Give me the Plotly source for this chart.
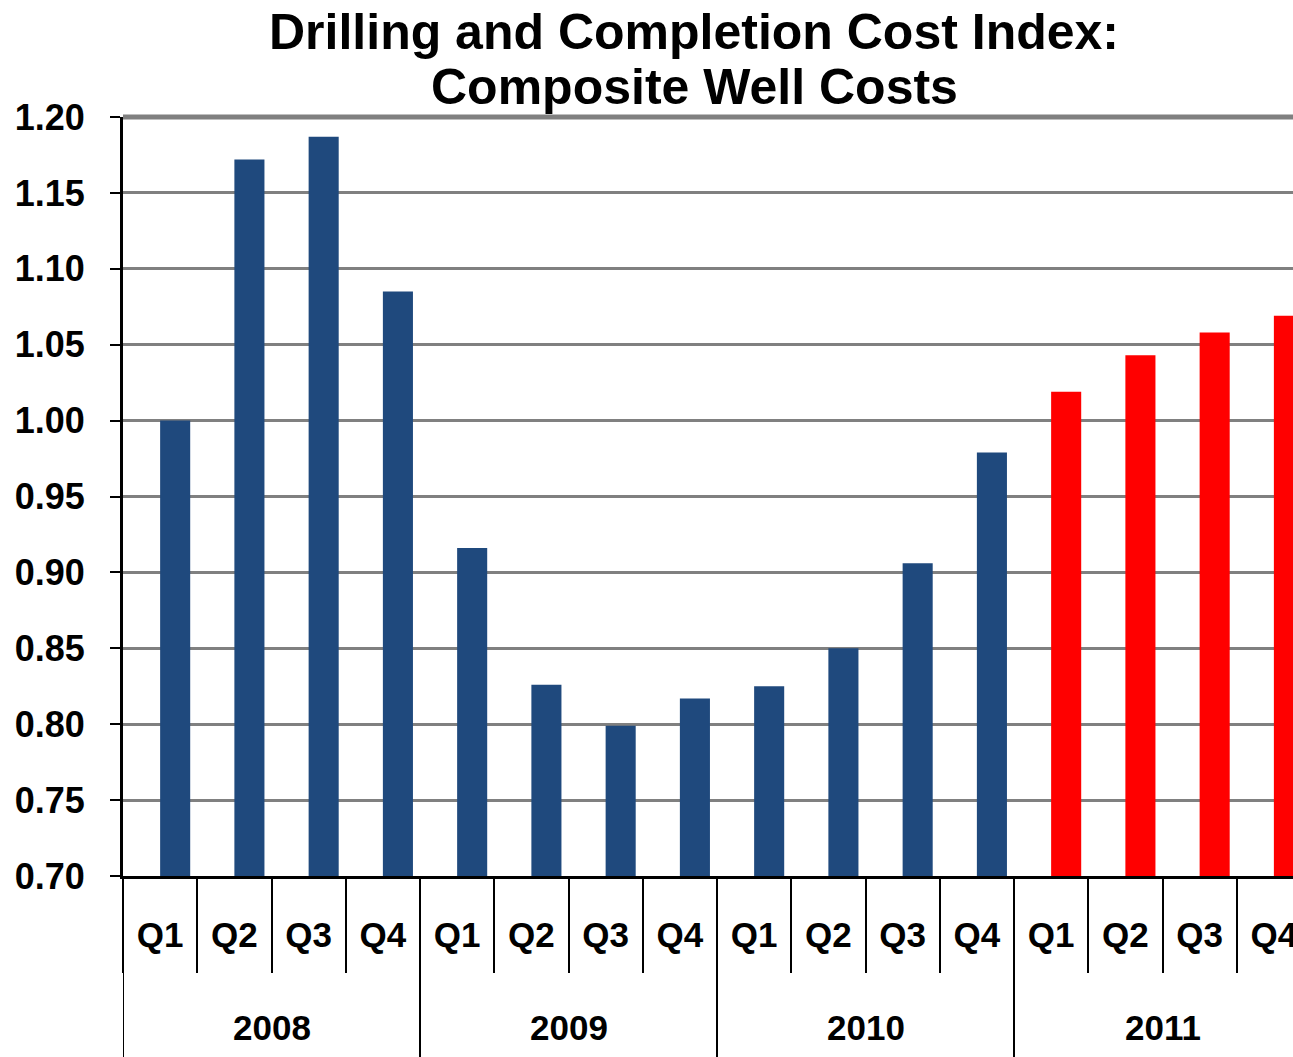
import plotly.graph_objects as go

years = ["2008"] * 4 + ["2009"] * 4 + ["2010"] * 4 + ["2011"] * 4
quarters = ["Q1", "Q2", "Q3", "Q4"] * 4
values = [1.000, 1.172, 1.187, 1.085,
          0.916, 0.826, 0.799, 0.817,
          0.825, 0.850, 0.906, 0.979,
          1.019, 1.043, 1.058, 1.069]
bar_colors = ["#1F497D"] * 12 + ["#FF0000"] * 4
y_ticks = [0.70, 0.75, 0.80, 0.85, 0.90, 0.95, 1.00, 1.05, 1.10, 1.15, 1.20]
title_line1 = "Drilling and Completion Cost Index:"
title_line2 = "Composite Well Costs"

FONT = "Liberation Sans, Arial, sans-serif"
Y_MIN, Y_MAX = 0.70, 1.20
W, H = 1293, 1057
M_L, M_T, M_B = 123, 117, 181
plot_h = H - M_T - M_B
TITLE_X = 694 / W

categories = [f"{y} {q}" for y, q in zip(years, quarters)]

fig = go.Figure(
    go.Bar(
        x=categories,
        y=[v - Y_MIN for v in values],
        base=Y_MIN,
        width=0.405,
        offset=0,
        marker=dict(color=bar_colors, line=dict(width=0)),
        hovertext=[f"{y} {q}: {v:.3f}" for y, q, v in zip(years, quarters, values)],
    )
)

fig.update_layout(
    width=W,
    height=H,
    paper_bgcolor="white",
    plot_bgcolor="white",
    showlegend=False,
    margin=dict(l=M_L, r=0, t=M_T, b=M_B, autoexpand=False),
    font=dict(family=FONT, size=35, color="black", weight="bold"),
    title=dict(
        text=title_line1,
        x=TITLE_X,
        xanchor="center",
        y=1 - 31 / H,
        yanchor="middle",
        font=dict(family=FONT, size=50, color="black", weight="bold"),
    ),
)
fig.update_yaxes(
    range=[Y_MIN, Y_MAX],
    tickvals=y_ticks,
    tickformat=".2f",
    showgrid=True,
    gridcolor="#808080",
    gridwidth=2.5,
    showline=True,
    linecolor="black",
    linewidth=3,
    ticks="outside",
    ticklen=10,
    tickwidth=2,
    tickcolor="black",
    ticklabelstandoff=18,
    zeroline=False,
    tickfont=dict(family=FONT, size=36, color="black", weight="bold"),
)
# the reference plot runs past the right edge of the picture
n = len(categories)
visible_end = (W - M_L) / ((W - M_L + 18) / n) - 0.5
fig.update_xaxes(
    type="category",
    categoryorder="array",
    categoryarray=categories,
    tickvals=categories,
    ticktext=quarters,
    range=[-0.5, visible_end],
    showline=True,
    linecolor="black",
    linewidth=3,
    ticks="outside",
    tickson="boundaries",
    ticklen=94,
    tickwidth=2,
    tickcolor="black",
    ticklabelstandoff=26,
    showgrid=False,
    tickfont=dict(family=FONT, size=35, color="black", weight="bold"),
)

# second title line
fig.add_annotation(
    text=title_line2,
    xref="paper", yref="paper",
    x=(TITLE_X * W - M_L) / (W - M_L),
    y=(H - M_B - 87) / plot_h,
    xanchor="center", yanchor="middle",
    showarrow=False,
    font=dict(family=FONT, size=50, color="black", weight="bold"),
)

# year group labels and dividers
groups = []
for i, y in enumerate(years):
    if not groups or groups[-1][0] != y:
        groups.append([y, i, i])
    else:
        groups[-1][2] = i
bottom = -M_B / plot_h
for y, i0, i1 in groups:
    fig.add_annotation(
        text=y, xref="x", yref="paper", x=(i0 + i1) / 2, y=-151 / plot_h,
        xanchor="center", yanchor="middle", showarrow=False,
        font=dict(family=FONT, size=35, color="black", weight="bold"),
    )
    fig.add_shape(
        type="line", xref="x", yref="paper", x0=i0 - 0.5, x1=i0 - 0.5,
        y0=0, y1=bottom, line=dict(color="black", width=2),
    )
# top frame line
fig.add_shape(
    type="line", xref="paper", yref="paper", x0=0, x1=1, y0=1, y1=1,
    line=dict(color="#808080", width=5),
)
fig.write_html(
    "out.html",
    config={"displayModeBar": False},
    post_script="document.body.style.margin='0';document.body.style.overflow='hidden';",
)
